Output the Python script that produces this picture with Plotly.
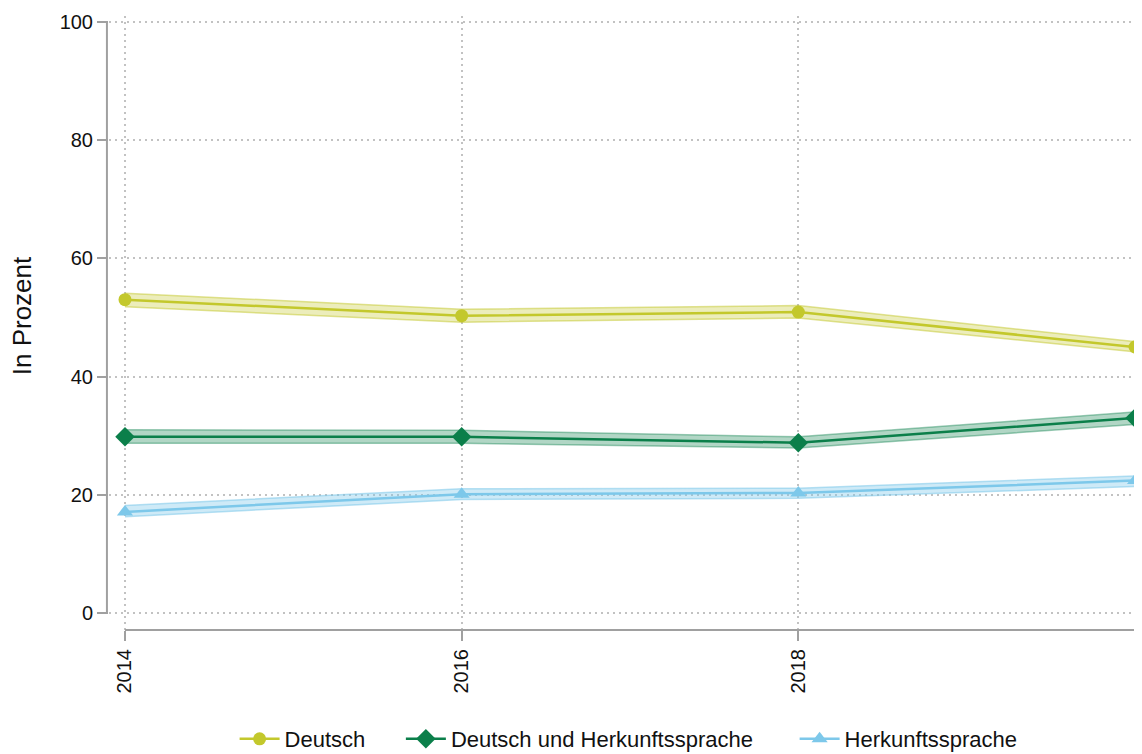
import plotly.graph_objects as go

years = [2014, 2016, 2018, 2020]

deutsch = [53.0, 50.3, 50.9, 45.0]
deutsch_lo = [51.8, 49.2, 49.9, 44.2]
deutsch_hi = [54.1, 51.4, 52.0, 45.9]

duh = [29.8, 29.8, 28.8, 33.0]
duh_lo = [28.7, 28.7, 27.9, 31.9]
duh_hi = [31.0, 30.9, 29.8, 34.0]

herk = [17.1, 20.1, 20.3, 22.4]
herk_lo = [16.3, 19.2, 19.4, 21.4]
herk_hi = [18.2, 21.0, 21.1, 23.2]

names = ["Deutsch", "Deutsch und Herkunftssprache", "Herkunftssprache"]
legend_pad = ["\u00a0" * 5, "\u00a0" * 6, ""]
colors = ["#c3c82c", "#0b7f4a", "#7dc8ea"]
bands = ["rgba(195,200,44,0.32)", "rgba(11,127,74,0.32)", "rgba(125,200,234,0.38)"]
edges = ["rgba(195,200,44,0.5)", "rgba(11,127,74,0.4)", "rgba(125,200,234,0.55)"]
symbols = ["circle", "diamond", "triangle-up"]
msizes = [13, 15, 14]

series = [(deutsch, deutsch_lo, deutsch_hi), (duh, duh_lo, duh_hi), (herk, herk_lo, herk_hi)]

fig = go.Figure()
for i, (vals, lo, hi) in enumerate(series):
    fig.add_trace(go.Scatter(x=years, y=lo, mode="lines", line=dict(color=edges[i], width=1.5),
                             showlegend=False, hoverinfo="skip"))
    fig.add_trace(go.Scatter(x=years, y=hi, mode="lines", line=dict(color=edges[i], width=1.5),
                             fill="tonexty", fillcolor=bands[i], showlegend=False, hoverinfo="skip"))
for i, (vals, lo, hi) in enumerate(series):
    fig.add_trace(go.Scatter(x=years, y=vals, mode="lines+markers", name=names[i] + legend_pad[i],
                             line=dict(color=colors[i], width=2.5),
                             marker=dict(symbol=symbols[i], size=msizes[i], color=colors[i])))

axis_gray = "#a0a0a0"
grid_gray = "#c2c2c2"
fig.update_layout(
    width=1134, height=760,
    margin=dict(l=101, r=0, t=8, b=138),
    paper_bgcolor="white", plot_bgcolor="white",
    font=dict(family="Liberation Sans, Arial, sans-serif", size=20, color="#111111"),
    showlegend=True,
    legend=dict(orientation="h", x=0.503, xanchor="center", y=-0.1775, yanchor="middle",
                font=dict(size=22), traceorder="normal", itemwidth=40),
    xaxis=dict(range=[2013.905, 2020.0416], tickvals=years, ticktext=[str(y) for y in years],
               tickangle=-90, showgrid=True, gridcolor=grid_gray, griddash="2px,4px", gridwidth=1.5,
               zeroline=False, showline=False, ticks="outside", ticklen=10, tickcolor=axis_gray,
               tickwidth=2, tickfont=dict(size=20), automargin=False),
    yaxis=dict(range=[-2.88, 101.0], tickvals=[0, 20, 40, 60, 80, 100], showgrid=True,
               gridcolor=grid_gray, griddash="2px,4px", gridwidth=1.5, zeroline=False, showline=False,
               ticks="outside", ticklen=11, tickcolor=axis_gray, tickwidth=2,
               tickfont=dict(size=20), automargin=False),
    annotations=[dict(text="In Prozent", textangle=-90, xref="paper", yref="paper",
                      x=-0.0842, y=0.511, xanchor="center", yanchor="middle", showarrow=False,
                      font=dict(size=26, color="#111111"))],
)
# offset axis lines (Stata style)
fig.add_shape(type="line", xref="x", yref="paper", x0=2014, x1=2020, y0=0, y1=0,
              line=dict(color=axis_gray, width=2))
fig.add_shape(type="line", xref="paper", yref="y", x0=-0.002, x1=-0.002, y0=0, y1=100,
              line=dict(color=axis_gray, width=2))

fig.write_html("out.html")
